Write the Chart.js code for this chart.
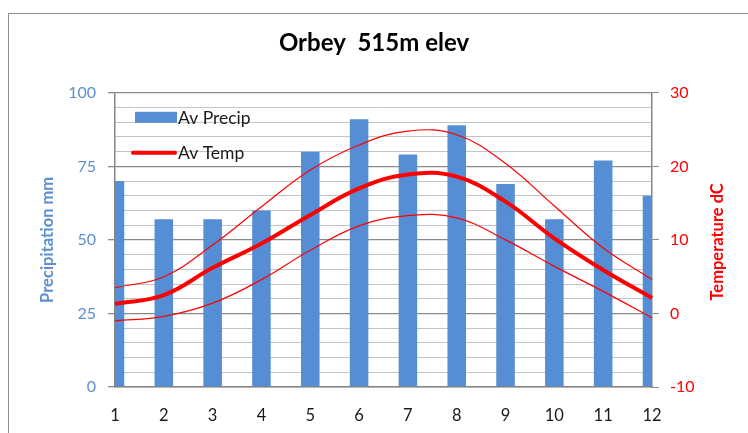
<!DOCTYPE html>
<html>
<head>
<meta charset="utf-8">
<script src="https://cdn.jsdelivr.net/npm/chart.js@4/dist/chart.umd.min.js"></script>
<style>
  html, body { margin: 0; padding: 0; background: #fff; overflow: hidden; }
  #wrap { position: relative; width: 748px; height: 433px; }
  #frame { position: absolute; left: 8px; top: 13px; width: 800px; height: 500px;
           border: 1px solid #8c8c8c; box-sizing: border-box; }
  canvas { position: absolute; left: 0; top: 0; }
</style>
</head>
<body>
<div id="wrap">
  <div id="frame"></div>
  <canvas id="c" width="748" height="433"></canvas>
</div>
<script>
// Monthly climate for Orbey
const months = ['1', '2', '3', '4', '5', '6', '7', '8', '9', '10', '11', '12'];
const precip = [70, 57, 57, 60, 80, 91, 79, 89, 69, 57, 77, 65];          // mm
const avgTemp = [1.3, 2.5, 6.2, 9.5, 13.4, 17.0, 18.9, 18.6, 15.2, 10.2, 5.9, 2.1]; // °C
const maxTemp = [3.5, 5.0, 9.3, 14.5, 19.5, 22.9, 24.8, 24.3, 20.4, 14.6, 8.9, 4.6];
const minTemp = [-1.0, -0.4, 1.4, 4.6, 8.6, 11.9, 13.3, 13.0, 10.0, 6.4, 3.0, -0.6];

const FONT = 'Lato, "Open Sans", sans-serif';
const BLUE = '#558ED5';
const RED = '#FF0000';
const AXIS_BLUE = '#5E8FCF';

// Legend drawn inside the plot area, top-left, for the two main series
const innerLegend = {
  id: 'innerLegend',
  afterDatasetsDraw(chart) {
    const { ctx, chartArea } = chart;
    const x0 = chartArea.left;
    const y0 = chartArea.top;
    ctx.save();
    ctx.font = '17.5px ' + FONT;
    ctx.textBaseline = 'middle';
    ctx.textAlign = 'left';
    // bar swatch
    ctx.fillStyle = BLUE;
    ctx.fillRect(x0 + 20, y0 + 19, 42, 11);
    ctx.fillStyle = '#1a1a1a';
    ctx.fillText(chart.data.datasets[0].label, x0 + 63, y0 + 26);
    // line swatch
    ctx.strokeStyle = RED;
    ctx.lineWidth = 4;
    ctx.lineCap = 'round';
    ctx.beginPath();
    ctx.moveTo(x0 + 18, y0 + 60);
    ctx.lineTo(x0 + 60, y0 + 60);
    ctx.stroke();
    ctx.fillText(chart.data.datasets[1].label, x0 + 63, y0 + 61);
    ctx.restore();
  }
};

// Right axis title, reading bottom to top
const rightTitle = {
  id: 'rightTitle',
  afterDraw(chart) {
    const { ctx, chartArea } = chart;
    ctx.save();
    ctx.translate(718, (chartArea.top + chartArea.bottom) / 2 + 2);
    ctx.rotate(-Math.PI / 2);
    ctx.font = 'bold 16.5px ' + FONT;
    ctx.fillStyle = RED;
    ctx.textAlign = 'center';
    ctx.textBaseline = 'middle';
    ctx.fillText('Temperature dC', 0, 0);
    ctx.restore();
  }
};

new Chart(document.getElementById('c'), {
  data: {
    labels: months,
    datasets: [
      {
        type: 'bar', label: 'Av Precip', data: precip, yAxisID: 'yP',
        backgroundColor: BLUE, borderWidth: 0,
        categoryPercentage: 1, barPercentage: 0.38, clip: 0, order: 3
      },
      {
        type: 'line', label: 'Av Temp', data: avgTemp, yAxisID: 'yT',
        borderColor: RED, borderWidth: 4, pointRadius: 0, tension: 0.4, order: 0
      },
      {
        type: 'line', label: 'Max Temp', data: maxTemp, yAxisID: 'yT',
        borderColor: RED, borderWidth: 1.2, pointRadius: 0, tension: 0.4, order: 1
      },
      {
        type: 'line', label: 'Min Temp', data: minTemp, yAxisID: 'yT',
        borderColor: RED, borderWidth: 1.2, pointRadius: 0, tension: 0.4, order: 1
      }
    ]
  },
  options: {
    responsive: false,
    animation: false,
    events: [],
    layout: { padding: { left: 0, right: 0, top: 0, bottom: 0 } },
    plugins: {
      legend: { display: false },
      tooltip: { enabled: false },
      title: {
        display: true,
        text: 'Orbey  515m elev',
        color: '#000',
        font: { family: FONT, size: 24, weight: 'bold' },
        padding: { top: 29, bottom: 35 }
      }
    },
    scales: {
      x: {
        type: 'category',
        offset: false,
        grid: { display: true, drawOnChartArea: false, drawTicks: false },
        border: { color: '#868686', width: 1.5 },
        ticks: { color: '#1a1a1a', font: { family: FONT, size: 16.5 }, padding: 19, maxRotation: 0 },
        afterFit(s) { s.height = 46; }
      },
      yP: {
        position: 'left',
        min: 0, max: 100,
        ticks: {
          stepSize: 5, autoSkip: false,
          color: AXIS_BLUE, font: { family: FONT, size: 16 }, padding: 12,
          callback: v => (v % 25 === 0 ? String(v) : '')
        },
        grid: {
          color: c => (c.tick && c.tick.value % 25 === 0 ? '#8a8a8a' : '#c4c4c4'),
          lineWidth: c => (c.tick && c.tick.value % 25 === 0 ? 1.3 : 1),
          tickColor: c => (c.tick && c.tick.value % 25 === 0 ? '#8a8a8a' : 'rgba(0,0,0,0)'),
          tickLength: 7
        },
        border: { color: '#868686', width: 1.5 },
        title: {
          display: true, text: 'Precipitation mm', color: AXIS_BLUE,
          font: { family: FONT, size: 16.5, weight: 'bold' },
          padding: { top: 38, bottom: 0 }
        },
        afterFit(s) { s.width = 115; }
      },
      yT: {
        position: 'right',
        min: -10, max: 30,
        ticks: { stepSize: 10, color: RED, font: { family: FONT, size: 16 }, padding: 11 },
        grid: { drawOnChartArea: false, color: '#8a8a8a', tickLength: 7 },
        border: { color: '#868686', width: 1.5 },
        afterFit(s) { s.width = 96; }
      }
    }
  },
  plugins: [innerLegend, rightTitle]
});
</script>
</body>
</html>
